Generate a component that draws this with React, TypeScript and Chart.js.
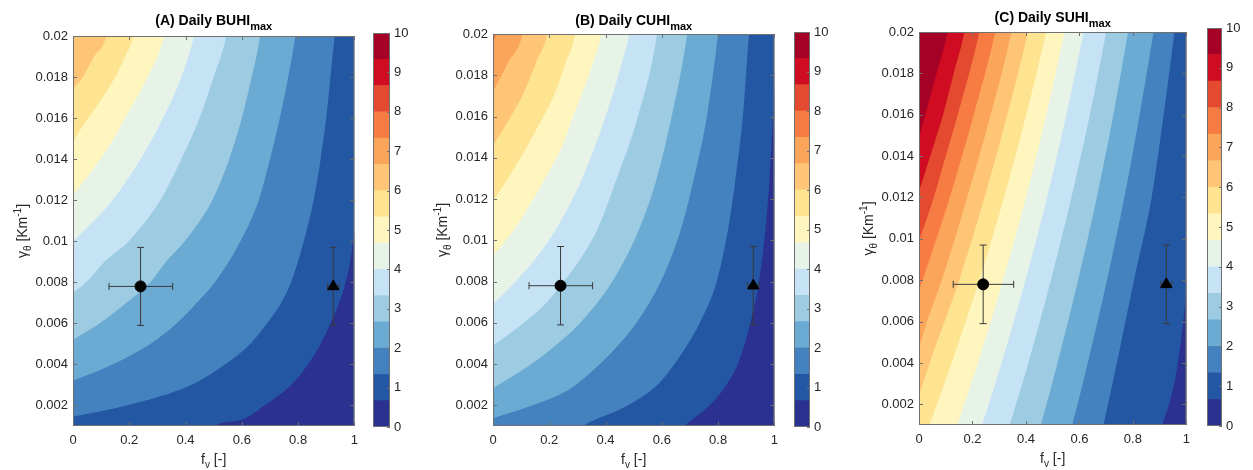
import React, { useEffect, useRef } from 'react';
import { Chart, registerables } from 'chart.js';

Chart.register(...registerables);

const FONT = 'Arial, "Liberation Sans", Helvetica, sans-serif';
const TEXT_COLOR = '#262626';
const FRAME_COLOR = '#707070';
const ERR_COLOR = '#3a3a3a';

// colour levels (15 bands from 0 to 10)
const LEVELS = [0, 0.667, 1.333, 2, 2.667, 3.333, 4, 4.667, 5.333, 6, 6.667, 7.333, 8, 8.667, 9.333, 10];
const BAND_COLORS = [
  '#2b3190', '#2356a3', '#4382bf', '#6aaad3', '#9ccbe2', '#c6e2f5', '#e8f3e8', '#fff6bf',
  '#fee391', '#fdc575', '#fba55b', '#f77c43', '#e34a30', '#cf0c21', '#a50026',
];

const X_TICKS = [0, 0.2, 0.4, 0.6, 0.8, 1];
const X_TICK_LABELS = ['0', '0.2', '0.4', '0.6', '0.8', '1'];
const Y_TICKS = [0.002, 0.004, 0.006, 0.008, 0.01, 0.012, 0.014, 0.016, 0.018, 0.02];
const Y_TICK_LABELS = ['0.002', '0.004', '0.006', '0.008', '0.01', '0.012', '0.014', '0.016', '0.018', '0.02'];
const CBAR_TICKS = [0, 1, 2, 3, 4, 5, 6, 7, 8, 9, 10];
const CBAR_TICK_LABELS = ['0', '1', '2', '3', '4', '5', '6', '7', '8', '9', '10'];

type Pt = [number, number];

// Contour boundaries [f_v, gamma]; boundary i separates band i (below/right) from band i+1
const BUHI_BOUNDARIES: Pt[][] = [
  [[0.49, 0.0007], [0.504, 0.001], [0.6, 0.0013], [0.68, 0.002], [0.775, 0.003], [0.835, 0.004], [0.88, 0.005], [0.915, 0.006], [0.965, 0.0078], [0.985, 0.009], [1.0, 0.0105], [1.03, 0.013]],
  [[-0.05, 0.0013], [0, 0.00145], [0.19, 0.002], [0.42, 0.003], [0.54, 0.004], [0.63, 0.005], [0.69, 0.006], [0.74, 0.007], [0.775, 0.008], [0.82, 0.01], [0.855, 0.012], [0.88, 0.014], [0.9, 0.016], [0.915, 0.018], [0.93, 0.02], [0.935, 0.0206], [1.1, 0.0206]],
  [[-0.05, 0.0029], [0, 0.0032], [0.14, 0.004], [0.275, 0.005], [0.369, 0.006], [0.44, 0.007], [0.504, 0.008], [0.595, 0.01], [0.66, 0.012], [0.7, 0.014], [0.735, 0.016], [0.765, 0.018], [0.79, 0.02], [0.795, 0.0206], [1.1, 0.0206]],
  [[-0.05, 0.0048], [0, 0.0052], [0.095, 0.006], [0.19, 0.007], [0.275, 0.008], [0.33, 0.009], [0.397, 0.01], [0.495, 0.012], [0.555, 0.014], [0.6, 0.016], [0.635, 0.018], [0.665, 0.02], [0.67, 0.0206], [1.1, 0.0206]],
  [[-0.05, 0.007], [0, 0.0075], [0.047, 0.008], [0.112, 0.009], [0.198, 0.01], [0.31, 0.012], [0.385, 0.014], [0.45, 0.016], [0.5, 0.018], [0.545, 0.02], [0.552, 0.0206], [1.1, 0.0206]],
  [[-0.05, 0.0093], [0, 0.01], [0.075, 0.011], [0.14, 0.012], [0.24, 0.014], [0.32, 0.016], [0.385, 0.018], [0.43, 0.02], [0.438, 0.0206], [1.1, 0.0206]],
  [[-0.05, 0.0114], [0, 0.01225], [0.07, 0.0135], [0.145, 0.015], [0.185, 0.016], [0.265, 0.018], [0.323, 0.02], [0.33, 0.0206], [1.1, 0.0206]],
  [[-0.05, 0.0139], [0, 0.0149], [0.055, 0.016], [0.105, 0.017], [0.15, 0.018], [0.185, 0.019], [0.215, 0.02], [0.222, 0.0206], [1.1, 0.0206]],
  [[-0.05, 0.0165], [0, 0.0174], [0.035, 0.018], [0.075, 0.019], [0.118, 0.02], [0.125, 0.0206], [1.1, 0.0206]],
];

const CUHI_BOUNDARIES: Pt[][] = [
  [[0.665, 0.0008], [0.68, 0.001], [0.77, 0.002], [0.83, 0.003], [0.87, 0.004], [0.915, 0.006], [0.945, 0.008], [0.968, 0.0105], [0.983, 0.013], [0.995, 0.016], [1.0, 0.0175], [1.01, 0.021]],
  [[0.3, 0.0008], [0.32, 0.001], [0.48, 0.002], [0.585, 0.003], [0.645, 0.004], [0.735, 0.006], [0.795, 0.008], [0.835, 0.0105], [0.862, 0.013], [0.888, 0.016], [0.91, 0.02], [0.915, 0.0206], [1.1, 0.0206]],
  [[-0.05, 0.00115], [0, 0.00137], [0.141, 0.002], [0.278, 0.00283], [0.38, 0.004], [0.444, 0.0049], [0.51, 0.006], [0.596, 0.008], [0.667, 0.0105], [0.714, 0.013], [0.76, 0.016], [0.8, 0.02], [0.805, 0.0206], [1.1, 0.0206]],
  [[-0.05, 0.0024], [0, 0.00283], [0.136, 0.004], [0.222, 0.0049], [0.31, 0.006], [0.424, 0.008], [0.518, 0.0105], [0.582, 0.013], [0.635, 0.016], [0.69, 0.02], [0.695, 0.0206], [1.1, 0.0206]],
  [[-0.05, 0.0044], [0, 0.0049], [0.11, 0.006], [0.185, 0.0069], [0.252, 0.008], [0.318, 0.00925], [0.37, 0.0105], [0.44, 0.013], [0.515, 0.016], [0.583, 0.02], [0.588, 0.0206], [1.1, 0.0206]],
  [[-0.05, 0.0062], [0, 0.0069], [0.08, 0.008], [0.159, 0.00925], [0.222, 0.0105], [0.317, 0.013], [0.4, 0.016], [0.458, 0.0186], [0.484, 0.02], [0.49, 0.0206], [1.1, 0.0206]],
  [[-0.05, 0.0084], [0, 0.00925], [0.074, 0.0105], [0.139, 0.0119], [0.185, 0.013], [0.247, 0.0146], [0.285, 0.016], [0.355, 0.0186], [0.385, 0.02], [0.392, 0.0206], [1.1, 0.0206]],
  [[-0.05, 0.0109], [0, 0.0119], [0.053, 0.013], [0.123, 0.0146], [0.179, 0.016], [0.222, 0.0172], [0.258, 0.0186], [0.292, 0.02], [0.298, 0.0206], [1.1, 0.0206]],
  [[-0.05, 0.0135], [0, 0.0146], [0.063, 0.016], [0.111, 0.0172], [0.152, 0.0186], [0.193, 0.02], [0.2, 0.0206], [1.1, 0.0206]],
  [[-0.05, 0.0159], [0, 0.0172], [0.053, 0.0186], [0.105, 0.02], [0.112, 0.0206], [1.1, 0.0206]],
  [[-0.05, 0.0185], [0, 0.0196], [0.012, 0.02], [0.02, 0.0206], [1.1, 0.0206]],
];

const SUHI_BOUNDARIES: Pt[][] = [
  [[0.895, 0.0], [0.91, 0.001], [0.935, 0.002], [0.962, 0.0035], [0.982, 0.0053], [0.996, 0.007], [1.005, 0.0085], [1.03, 0.012]],
  [[0.675, 0.0], [0.69, 0.001], [0.707, 0.002], [0.74, 0.004], [0.804, 0.008], [0.87, 0.012], [0.915, 0.016], [0.955, 0.02], [0.96, 0.0206], [1.1, 0.0206]],
  [[0.555, 0.0], [0.573, 0.001], [0.593, 0.002], [0.631, 0.004], [0.703, 0.008], [0.768, 0.012], [0.825, 0.016], [0.877, 0.02], [0.884, 0.0206], [1.1, 0.0206]],
  [[0.44, 0.0], [0.456, 0.001], [0.477, 0.002], [0.518, 0.004], [0.595, 0.008], [0.665, 0.012], [0.727, 0.016], [0.782, 0.02], [0.79, 0.0206], [1.1, 0.0206]],
  [[0.32, 0.0], [0.34, 0.001], [0.363, 0.002], [0.409, 0.004], [0.493, 0.008], [0.57, 0.012], [0.639, 0.016], [0.7, 0.02], [0.708, 0.0206], [1.1, 0.0206]],
  [[0.215, 0.0], [0.236, 0.001], [0.261, 0.002], [0.309, 0.004], [0.398, 0.008], [0.479, 0.012], [0.551, 0.016], [0.616, 0.02], [0.625, 0.0206], [1.1, 0.0206]],
  [[0.12, 0.0], [0.143, 0.001], [0.169, 0.002], [0.22, 0.004], [0.314, 0.008], [0.4, 0.012], [0.476, 0.016], [0.544, 0.02], [0.553, 0.0206], [1.1, 0.0206]],
  [[0.01, 0.0], [0.039, 0.001], [0.067, 0.002], [0.122, 0.004], [0.225, 0.008], [0.318, 0.012], [0.401, 0.016], [0.475, 0.02], [0.484, 0.0206], [1.1, 0.0206]],
  [[-0.03, 0.0012], [0, 0.0024], [0.04, 0.004], [0.15, 0.008], [0.245, 0.012], [0.33, 0.016], [0.407, 0.02], [0.416, 0.0206], [1.1, 0.0206]],
  [[-0.03, 0.0034], [0, 0.0047], [0.03, 0.006], [0.085, 0.008], [0.18, 0.012], [0.268, 0.016], [0.346, 0.02], [0.355, 0.0206], [1.1, 0.0206]],
  [[-0.03, 0.0063], [0, 0.0075], [0.013, 0.008], [0.065, 0.01], [0.115, 0.012], [0.205, 0.016], [0.285, 0.02], [0.294, 0.0206], [1.1, 0.0206]],
  [[-0.03, 0.0088], [0, 0.0099], [0.055, 0.012], [0.1, 0.014], [0.145, 0.016], [0.226, 0.02], [0.235, 0.0206], [1.1, 0.0206]],
  [[-0.03, 0.0111], [0, 0.0123], [0.042, 0.014], [0.09, 0.016], [0.13, 0.018], [0.17, 0.02], [0.178, 0.0206], [1.1, 0.0206]],
  [[-0.03, 0.0135], [0, 0.0149], [0.055, 0.0175], [0.107, 0.02], [0.115, 0.0206], [1.1, 0.0206]],
];

// observations
const OBS_CIRCLE: Pt = [0.24, 0.0078];
const OBS_CIRCLE_XERR: Pt = [0.128, 0.354];
const OBS_CIRCLE_YERR: Pt = [0.0059, 0.0097];
const OBS_TRIANGLE: Pt = [0.925, 0.0078];
const OBS_TRIANGLE_XERR: Pt = [0.905, 0.945];
const OBS_TRIANGLE_YERR: Pt = [0.0059, 0.0097];

type Seg = { t: string; size: number; bold?: boolean; dy?: number };

function drawRich(ctx: CanvasRenderingContext2D, segs: Seg[], cx: number, y: number) {
  ctx.textAlign = 'left';
  ctx.textBaseline = 'alphabetic';
  let total = 0;
  for (const s of segs) {
    ctx.font = `${s.bold ? 'bold ' : ''}${s.size}px ${FONT}`;
    total += ctx.measureText(s.t).width;
  }
  let x = cx - total / 2;
  for (const s of segs) {
    ctx.font = `${s.bold ? 'bold ' : ''}${s.size}px ${FONT}`;
    ctx.fillText(s.t, x, y + (s.dy || 0));
    x += ctx.measureText(s.t).width;
  }
}

interface Box { l: number; r: number; t: number; b: number }
interface PanelSpec {
  key: string;
  titleMain: string;
  boundaries: Pt[][];
  canvasLeft: number;
  canvasWidth: number;
  plot: Box;
  titleY: number;
  cbLeft: number;
  cbWidth: number;
  bar: Box;
}

const PANELS: PanelSpec[] = [
  { key: 'A', titleMain: '(A) Daily BUHI', boundaries: BUHI_BOUNDARIES, canvasLeft: 0, canvasWidth: 365, plot: { l: 73, r: 358, t: 36, b: 426 }, titleY: 25, cbLeft: 365, cbWidth: 50, bar: { l: 373, r: 390, t: 33, b: 427 } },
  { key: 'B', titleMain: '(B) Daily CUHI', boundaries: CUHI_BOUNDARIES, canvasLeft: 420, canvasWidth: 365, plot: { l: 493, r: 779, t: 34, b: 426 }, titleY: 25, cbLeft: 785, cbWidth: 50, bar: { l: 794, r: 810, t: 32, b: 427 } },
  { key: 'C', titleMain: '(C) Daily SUHI', boundaries: SUHI_BOUNDARIES, canvasLeft: 845, canvasWidth: 352, plot: { l: 919, r: 1191, t: 32, b: 425 }, titleY: 22, cbLeft: 1197, cbWidth: 56, bar: { l: 1207, r: 1222, t: 28, b: 426 } },
];

const H = 470;

function ContourPlot({ spec }: { spec: PanelSpec }) {
  const ref = useRef<HTMLCanvasElement | null>(null);
  useEffect(() => {
    const canvas = ref.current;
    if (!canvas) return;
    const yAxisW = spec.plot.l - spec.canvasLeft;
    const padRight = spec.canvasLeft + spec.canvasWidth - spec.plot.r;
    const xAxisH = H - spec.plot.b;
    const P = (p: Pt) => ({ x: p[0], y: p[1] });

    const datasets: any[] = [];
    datasets.push({ data: [P(OBS_CIRCLE)], showLine: false, pointStyle: 'circle', pointRadius: 5.5, pointBackgroundColor: '#000', pointBorderColor: '#000', pointBorderWidth: 1, fill: false });
    datasets.push({ data: [P(OBS_TRIANGLE)], showLine: false, pointStyle: 'triangle', pointRadius: 6.5, pointBackgroundColor: '#000', pointBorderColor: '#000', pointBorderWidth: 1, fill: false });
    const errLine = (pts: Pt[]) => ({ data: pts.map(P), borderColor: ERR_COLOR, borderWidth: 1, pointRadius: 0, fill: false, tension: 0 });
    datasets.push(errLine([[OBS_CIRCLE[0], OBS_CIRCLE_YERR[0]], [OBS_CIRCLE[0], OBS_CIRCLE_YERR[1]]]));
    datasets.push(errLine([[OBS_CIRCLE_XERR[0], OBS_CIRCLE[1]], [OBS_CIRCLE_XERR[1], OBS_CIRCLE[1]]]));
    datasets.push(errLine([[OBS_TRIANGLE[0], OBS_TRIANGLE_YERR[0]], [OBS_TRIANGLE[0], OBS_TRIANGLE_YERR[1]]]));
    datasets.push(errLine([[OBS_TRIANGLE_XERR[0], OBS_TRIANGLE[1]], [OBS_TRIANGLE_XERR[1], OBS_TRIANGLE[1]]]));
    datasets.push({ data: [[OBS_CIRCLE[0], OBS_CIRCLE_YERR[0]], [OBS_CIRCLE[0], OBS_CIRCLE_YERR[1]], [OBS_TRIANGLE[0], OBS_TRIANGLE_YERR[0]], [OBS_TRIANGLE[0], OBS_TRIANGLE_YERR[1]]].map((p) => P(p as Pt)), showLine: false, pointStyle: 'line', pointRadius: 3.5, pointBorderColor: ERR_COLOR, pointBorderWidth: 1, fill: false });
    datasets.push({ data: [[OBS_CIRCLE_XERR[0], OBS_CIRCLE[1]], [OBS_CIRCLE_XERR[1], OBS_CIRCLE[1]], [OBS_TRIANGLE_XERR[0], OBS_TRIANGLE[1]], [OBS_TRIANGLE_XERR[1], OBS_TRIANGLE[1]]].sort((a, b) => a[0] - b[0]).map((p) => P(p as Pt)), showLine: false, pointStyle: 'line', pointRotation: 90, pointRadius: 3.5, pointBorderColor: ERR_COLOR, pointBorderWidth: 1, fill: false });

    spec.boundaries.forEach((pts, i) => {
      datasets.push({
        data: pts.map(P),
        fill: 'start',
        backgroundColor: BAND_COLORS[i],
        borderColor: 'transparent',
        borderWidth: 0,
        pointRadius: 0,
        cubicInterpolationMode: 'monotone',
        capBezierPoints: false,
      });
    });
    datasets.push({ data: [{ x: -0.1, y: 0.03 }, { x: 1.2, y: 0.03 }], fill: 'start', backgroundColor: BAND_COLORS[spec.boundaries.length], borderColor: 'transparent', borderWidth: 0, pointRadius: 0 });

    const textPlugin = {
      id: 'frameAndText' + spec.key,
      afterDatasetsDraw(chart: any) {
        const { ctx, chartArea: a, scales } = chart;
        ctx.save();
        ctx.strokeStyle = FRAME_COLOR;
        ctx.lineWidth = 1;
        ctx.strokeRect(a.left + 0.5, a.top + 0.5, a.right - a.left - 1, a.bottom - a.top - 1);
        ctx.beginPath();
        X_TICKS.forEach((v) => {
          const px = Math.round(scales.x.getPixelForValue(v)) + 0.5;
          ctx.moveTo(px, a.bottom); ctx.lineTo(px, a.bottom - 4);
          ctx.moveTo(px, a.top); ctx.lineTo(px, a.top + 4);
        });
        Y_TICKS.forEach((v) => {
          const py = Math.round(scales.y.getPixelForValue(v)) + 0.5;
          ctx.moveTo(a.left, py); ctx.lineTo(a.left + 4, py);
          ctx.moveTo(a.right, py); ctx.lineTo(a.right - 4, py);
        });
        ctx.stroke();
        ctx.restore();
      },
      afterDraw(chart: any) {
        const { ctx, chartArea: a } = chart;
        ctx.save();
        const cx = (a.left + a.right) / 2;
        ctx.fillStyle = '#000';
        drawRich(ctx, [{ t: spec.titleMain, size: 14, bold: true }, { t: 'max', size: 11, bold: true, dy: 5 }], cx, spec.titleY);
        ctx.fillStyle = TEXT_COLOR;
        drawRich(ctx, [{ t: 'f', size: 14 }, { t: 'v', size: 10, dy: 4 }, { t: ' [-]', size: 14 }], cx, a.bottom + 38);
        ctx.translate(a.left - 51, (a.top + a.bottom) / 2);
        ctx.rotate(-Math.PI / 2);
        drawRich(ctx, [{ t: 'γ', size: 14 }, { t: 'θ', size: 10, dy: 4 }, { t: ' [Km', size: 14 }, { t: '-1', size: 10, dy: -6 }, { t: ']', size: 14 }], 0, 5);
        ctx.restore();
      },
    };

    const chart = new Chart(canvas, {
      type: 'line',
      data: { datasets },
      options: {
        responsive: false,
        animation: false,
        events: [],
        layout: { padding: { left: 0, right: padRight, top: spec.plot.t, bottom: 0 } },
        plugins: { legend: { display: false }, tooltip: { enabled: false }, title: { display: false } },
        scales: {
          x: {
            type: 'linear', min: 0, max: 1,
            grid: { display: false, drawTicks: false },
            border: { display: false },
            ticks: { font: { family: FONT, size: 13 }, color: TEXT_COLOR, padding: 7, maxRotation: 0, autoSkip: false, callback: (_v: any, i: number) => X_TICK_LABELS[i] },
            afterBuildTicks: (ax: any) => { ax.ticks = X_TICKS.map((v) => ({ value: v })); },
            afterFit: (ax: any) => { ax.height = xAxisH; },
          },
          y: {
            type: 'linear', min: 0.001, max: 0.02,
            grid: { display: false, drawTicks: false },
            border: { display: false },
            ticks: { font: { family: FONT, size: 13 }, color: TEXT_COLOR, padding: 5, autoSkip: false, callback: (_v: any, i: number) => Y_TICK_LABELS[i] },
            afterBuildTicks: (ax: any) => { ax.ticks = Y_TICKS.map((v) => ({ value: v })); },
            afterFit: (ax: any) => { ax.width = yAxisW; },
          },
        },
      } as any,
      plugins: [textPlugin],
    });
    return () => chart.destroy();
  }, [spec]);
  return (
    <canvas ref={ref} width={spec.canvasWidth} height={H}
      style={{ position: 'absolute', left: spec.canvasLeft, top: 0, width: spec.canvasWidth, height: H }} />
  );
}

function ColorBar({ spec }: { spec: PanelSpec }) {
  const ref = useRef<HTMLCanvasElement | null>(null);
  useEffect(() => {
    const canvas = ref.current;
    if (!canvas) return;
    const axisW = spec.cbLeft + spec.cbWidth - spec.bar.r;
    const datasets = BAND_COLORS.map((c, i) => ({
      data: [[LEVELS[i], LEVELS[i + 1]]],
      backgroundColor: c,
      borderWidth: 0,
      barPercentage: 1,
      categoryPercentage: 1,
      grouped: false,
    }));
    const framePlugin = {
      id: 'cbframe' + spec.key,
      afterDatasetsDraw(chart: any) {
        const { ctx, chartArea: a, scales } = chart;
        ctx.save();
        ctx.strokeStyle = FRAME_COLOR;
        ctx.lineWidth = 1;
        ctx.strokeRect(a.left + 0.5, a.top + 0.5, a.right - a.left - 1, a.bottom - a.top - 1);
        ctx.beginPath();
        CBAR_TICKS.forEach((v) => {
          const py = Math.round(scales.y.getPixelForValue(v)) + 0.5;
          ctx.moveTo(a.right, py); ctx.lineTo(a.right - 3, py);
        });
        ctx.stroke();
        ctx.restore();
      },
    };
    const chart = new Chart(canvas, {
      type: 'bar',
      data: { labels: [''], datasets },
      options: {
        responsive: false,
        animation: false,
        events: [],
        layout: { padding: { left: spec.bar.l - spec.cbLeft, right: 0, top: spec.bar.t, bottom: H - spec.bar.b } },
        plugins: { legend: { display: false }, tooltip: { enabled: false } },
        scales: {
          x: { display: false },
          y: {
            position: 'right', min: 0, max: 10,
            grid: { display: false, drawTicks: false },
            border: { display: false },
            ticks: { font: { family: FONT, size: 13 }, color: TEXT_COLOR, padding: 4, autoSkip: false, callback: (_v: any, i: number) => CBAR_TICK_LABELS[i] },
            afterBuildTicks: (ax: any) => { ax.ticks = CBAR_TICKS.map((v) => ({ value: v })); },
            afterFit: (ax: any) => { ax.width = axisW; },
          },
        },
      } as any,
      plugins: [framePlugin],
    });
    return () => chart.destroy();
  }, [spec]);
  return (
    <canvas ref={ref} width={spec.cbWidth} height={H}
      style={{ position: 'absolute', left: spec.cbLeft, top: 0, width: spec.cbWidth, height: H }} />
  );
}

export default function App() {
  return (
    <div style={{ position: 'fixed', left: 0, top: 0, width: 1253, height: H, background: '#fff', overflow: 'hidden' }}>
      {PANELS.map((p) => (
        <React.Fragment key={p.key}>
          <ContourPlot spec={p} />
          <ColorBar spec={p} />
        </React.Fragment>
      ))}
    </div>
  );
}
